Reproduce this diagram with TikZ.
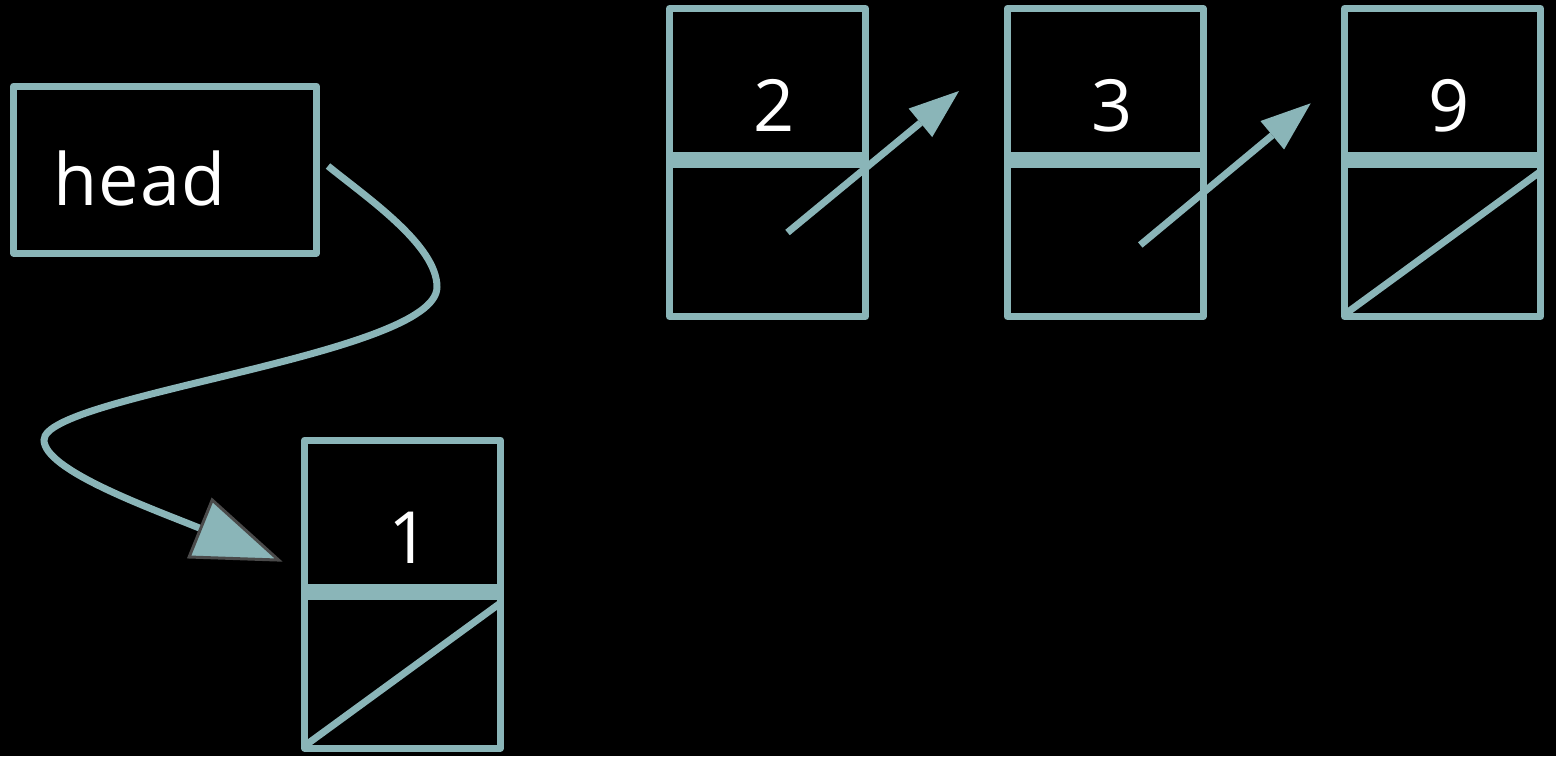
\documentclass[tikz,border=0pt]{standalone}
\usepackage{fontspec}
\setmainfont{Open Sans}
\newfontfamily\headfont[LetterSpace=1.5]{Open Sans}
\usetikzlibrary{arrows.meta}
\definecolor{lk}{HTML}{8AB5B8}
\definecolor{tipgray}{HTML}{4A4A4A}
\begin{document}
\begin{tikzpicture}[x=1pt,y=-1pt,
  box/.style={draw=lk, line width=7pt, line join=round, rectangle, inner sep=0pt},
  cell/.style={box, minimum width=196pt, minimum height=308pt},
  val/.style={text=white, font=\fontsize{72}{86}\selectfont, inner sep=0pt, anchor=base},
  ptr/.style={draw=lk, line width=7pt, -{Triangle[length=50pt,width=37pt,line width=0pt]}},
  nul/.style={draw=lk, line width=7pt},
  sepbar/.style={draw=lk, line width=16pt}]
\fill[black] (0,0) rectangle (1556,756);
\useasboundingbox (0,0) rectangle (1556,756);

% head pointer box
\node[box, minimum width=303pt, minimum height=167pt] (head) at (165,169.5) {};
\node[val, anchor=base west, font=\headfont\fontsize{72}{86}\selectfont] (hl) at (53.5,205) {head};

% list cells
\node[cell] (n1) at (402.5,594) {};
\node[cell] (n2) at (767.5,162.5) {};
\node[cell] (n3) at (1105.25,162.5) {};
\node[cell] (n9) at (1442.5,162.5) {};

\foreach \n in {n1,n2,n3,n9}{
  \draw[sepbar] ([xshift=-98pt,yshift=2.5pt]\n.center) -- ([xshift=98pt,yshift=2.5pt]\n.center);
}

\node[val] (v1) at ([xshift=7pt,yshift=31pt]n1.center) {1};
\node[val] (v2) at ([xshift=7pt,yshift=31pt]n2.center) {2};
\node[val] (v3) at ([xshift=7pt,yshift=31pt]n3.center) {3};
\node[val] (v9) at ([xshift=7pt,yshift=31pt]n9.center) {9};

% null pointers
\foreach \n in {n1,n9}{
  \draw[nul] ([xshift=-98pt,yshift=-152pt]\n.center) -- ([xshift=98pt,yshift=-9pt]\n.center);
}

% next pointers
\draw[ptr] ([xshift=20pt,yshift=-70pt]n2.center) -- ([xshift=-44.75pt,yshift=71.5pt]n3.west);
\draw[ptr] ([xshift=35pt,yshift=-82.5pt]n3.center) -- ([xshift=-30.3pt,yshift=59.2pt]n9.west);

% head -> first cell
\draw[lk, line width=7pt, -{Triangle[length=90pt,width=65pt,fill=lk,color=tipgray,line width=3pt]}]
  ([xshift=8pt,yshift=3.5pt]head.east) .. controls (366,197) and (437,245) .. (437,287)
  .. controls (437,355) and (44,395) .. (44,440)
  .. controls (44,470) and (150,508) .. ([xshift=-18.3pt,yshift=32.3pt]n1.west);
\end{tikzpicture}
\end{document}
